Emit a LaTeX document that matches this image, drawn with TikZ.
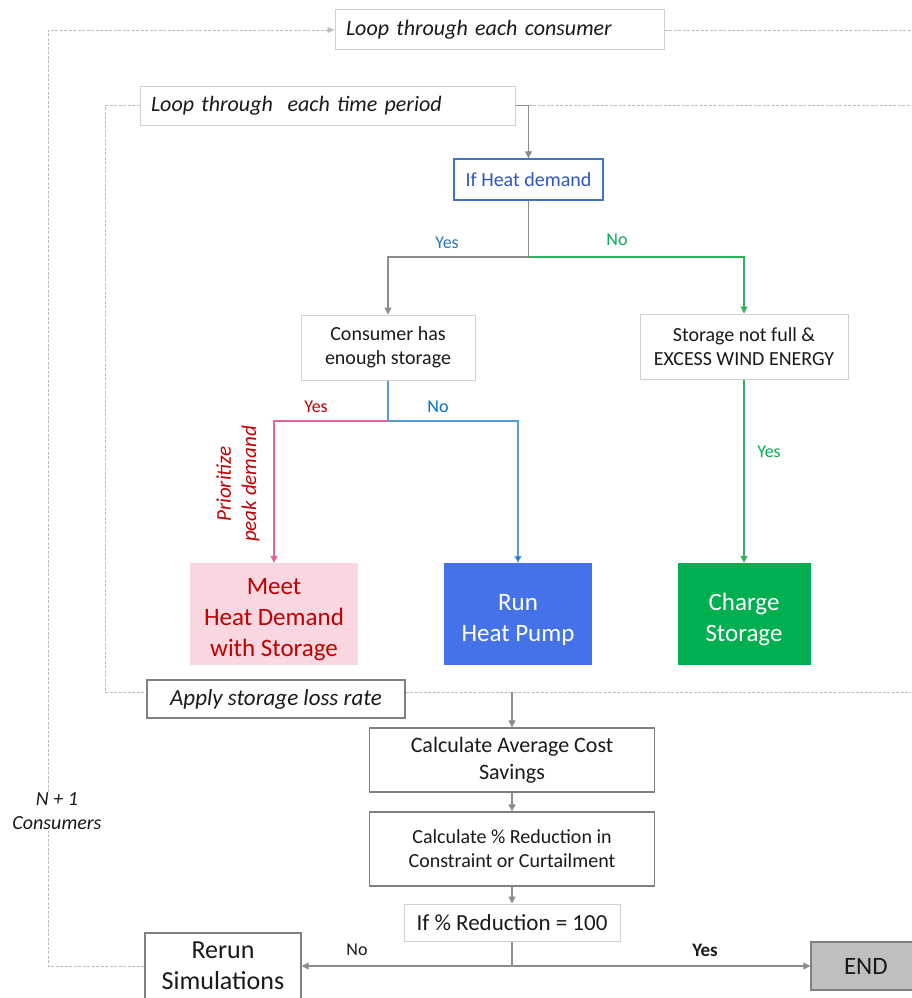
\documentclass[tikz,border=0pt]{standalone}
\usepackage{fontspec}
\setmainfont{Carlito}
\usetikzlibrary{arrows.meta}
\newcommand{\myfs}[1]{\fontsize{#1}{\dimexpr #1pt*6/5\relax}\selectfont}
\newcommand{\topstrut}{\rule{0pt}{28pt}}
\definecolor{txt}{HTML}{1A1A1A}
\definecolor{lgray}{HTML}{D0D0D0}
\definecolor{dgray}{HTML}{7F7F7F}
\definecolor{conncol}{HTML}{8C8C8C}
\definecolor{dashcol}{HTML}{BDBDBD}
\definecolor{hdblue}{HTML}{4472C4}
\definecolor{hdtext}{HTML}{2F55C0}
\definecolor{ylblue}{HTML}{2E75B6}
\definecolor{gtext}{HTML}{00B050}
\definecolor{gline}{HTML}{2DB35A}
\definecolor{rtext}{HTML}{C00000}
\definecolor{pline}{HTML}{E8609E}
\definecolor{bline}{HTML}{5B9BD5}
\definecolor{bdark}{HTML}{0070C0}
\definecolor{meetfill}{HTML}{F8D7E1}
\definecolor{runfill}{HTML}{4572E8}
\definecolor{chgfill}{HTML}{00B050}
\definecolor{endfill}{HTML}{BFBFBF}
\begin{document}
\begin{tikzpicture}[x=1pt,y=-1pt,
  every node/.style={inner sep=0pt, text=txt},
  lbox/.style={draw=lgray, line width=1pt, fill=white, align=center},
  dbox/.style={draw=dgray, line width=1.4pt, fill=white, align=center},
  fbox/.style={align=center, font=\fontsize{25}{31}\selectfont, text=white},
  conn/.style={draw=conncol, line width=1.1pt},
  arr/.style={-{Triangle[length=7pt,width=7pt]}},
  loopline/.style={draw=dashcol, line width=0.7pt, dash pattern=on 3pt off 1.5pt},
  lbl/.style={font=\myfs{18}},
]
\useasboundingbox (0,0) rectangle (911,998);

% boxes
\node[lbox, minimum height=40pt, text width=307pt, inner xsep=11pt, align=left, font=\myfs{22}\itshape] (cons) at (499.5,30) {Loop through each consumer};
\node[lbox, minimum height=39pt, text width=353pt, inner xsep=11pt, align=left, font=\myfs{22}\itshape] (tp) at (327.5,105.5) {Loop through\ \ each time period};
\node[draw=hdblue, line width=1.4pt, fill=white, minimum width=149pt, minimum height=41pt, font=\myfs{20}, text=hdtext] (ihd) at (528.5,179.5) {If Heat demand};
\node[lbox, minimum width=174pt, minimum height=65pt, font=\myfs{20}] (ces) at (388,347.5) {Consumer has\\enough storage};
\node[lbox, minimum width=208pt, minimum height=65pt, font=\myfs{20}] (snf) at (744,346.5) {Storage not full \&\\EXCESS WIND ENERGY};
\node[fbox, fill=meetfill, text=rtext, minimum width=168pt, minimum height=102pt] (meet) at (274,614) {\topstrut Meet\\Heat Demand\\with Storage};
\node[fbox, fill=runfill, minimum width=148pt, minimum height=102pt] (run) at (518,614) {\topstrut Run\\Heat Pump};
\node[fbox, fill=chgfill, minimum width=133pt, minimum height=102pt] (chg) at (744,614) {\topstrut Charge\\Storage};
\node[dbox, minimum width=258pt, minimum height=38pt, font=\myfs{23}\itshape] (apply) at (276,699) {Apply storage loss rate};
\node[dbox, minimum width=285pt, minimum height=64pt, font=\fontsize{22}{27}\selectfont] (cacs) at (512,760) {Calculate Average Cost\\Savings};
\node[dbox, minimum width=285pt, minimum height=74pt, font=\myfs{20}] (cred) at (512,849) {Calculate \% Reduction in\\Constraint or Curtailment};
\node[lbox, minimum width=216pt, minimum height=37pt, font=\myfs{23}] (ifr) at (512,922.5) {If \% Reduction = 100};
\node[dbox, minimum width=156pt, minimum height=66pt, font=\fontsize{26}{31}\selectfont] (rerun) at (223,966) {Rerun\\Simulations};
\node[draw=dgray, line width=1.4pt, fill=endfill, minimum width=119pt, minimum height=48pt, font=\myfs{25}, text=txt, text width=111pt, align=left, inner xsep=4pt] (endn) at (870.5,966) {\hspace*{29pt}END};

% loop lines
\coordinate (ibl) at (105,692);
\coordinate (ibr) at (911,692);
\coordinate (tpc) at (528.5,105.5);
\draw[loopline, -{Triangle[length=7pt,width=6pt]}] (rerun.west) -- (48,966) -- (48,30) -- (cons.west);
\draw[loopline] (cons.east) -- (911,30);
\draw[loopline] (tp.west) -- (105,105.5) -- (ibl) -- (apply.west |- ibl);
\draw[loopline] (tpc) -- (911,105.5);
\draw[loopline] (apply.east |- ibl) -- (ibr);

% connectors
\draw[conn, arr] (tp.east) -- (tpc) -- (ihd.north);
\coordinate (j1) at (528.5,257);
\draw[conn] (ihd.south) -- (j1);
\draw[conn, arr] (j1) -- (j1 -| ces.north) -- (ces.north);
\draw[draw=gline, line width=1.1pt, arr] (j1) -- (j1 -| snf.north) -- (snf.north);
\coordinate (j2) at (388,421);
\draw[draw=bline, line width=1.1pt] (ces.south) -- (j2);
\draw[draw=pline, line width=1.1pt, arr] (j2) -- (j2 -| meet.north) -- (meet.north);
\draw[draw=bline, line width=1.1pt, -{Triangle[length=7pt,width=7pt,fill=bdark]}] (j2) -- (j2 -| run.north) -- (run.north);
\draw[draw=gline, line width=1.1pt, arr] (snf.south) -- (chg.north);
\coordinate (ab) at (512,692);
\draw[conn, arr] (ab) -- (cacs.north);
\draw[conn, arr] (cacs.south) -- (cred.north);
\draw[conn, arr] (cred.south) -- (ifr.north);
\coordinate (j3) at (512,966);
\draw[conn] (ifr.south) -- (j3);
\draw[conn, arr] (j3) -- (rerun.east);
\draw[conn, arr] (j3) -- (endn.west);

% labels
\node[lbl, text=ylblue] (l1) at (447,243) {Yes};
\node[lbl, text=gtext] (l2) at (617,240) {No};
\node[lbl, text=rtext] (l3) at (316,407) {Yes};
\node[lbl, text=bdark] (l4) at (438,407) {No};
\node[rotate=90, font=\myfs{21}\itshape, text=rtext, align=center] (l5) at (238,484) {Prioritize\\peak demand};
\node[lbl, text=gtext] (l6) at (769,452) {Yes};
\node[lbl] (l7) at (357,950) {No};
\node[lbl, font=\myfs{19}\bfseries] (l8) at (705,950) {Yes};
\node[fill=white, font=\myfs{20}\itshape, align=center, inner sep=1pt] (l9) at (57,811) {N + 1\\Consumers};
\end{tikzpicture}
\end{document}
